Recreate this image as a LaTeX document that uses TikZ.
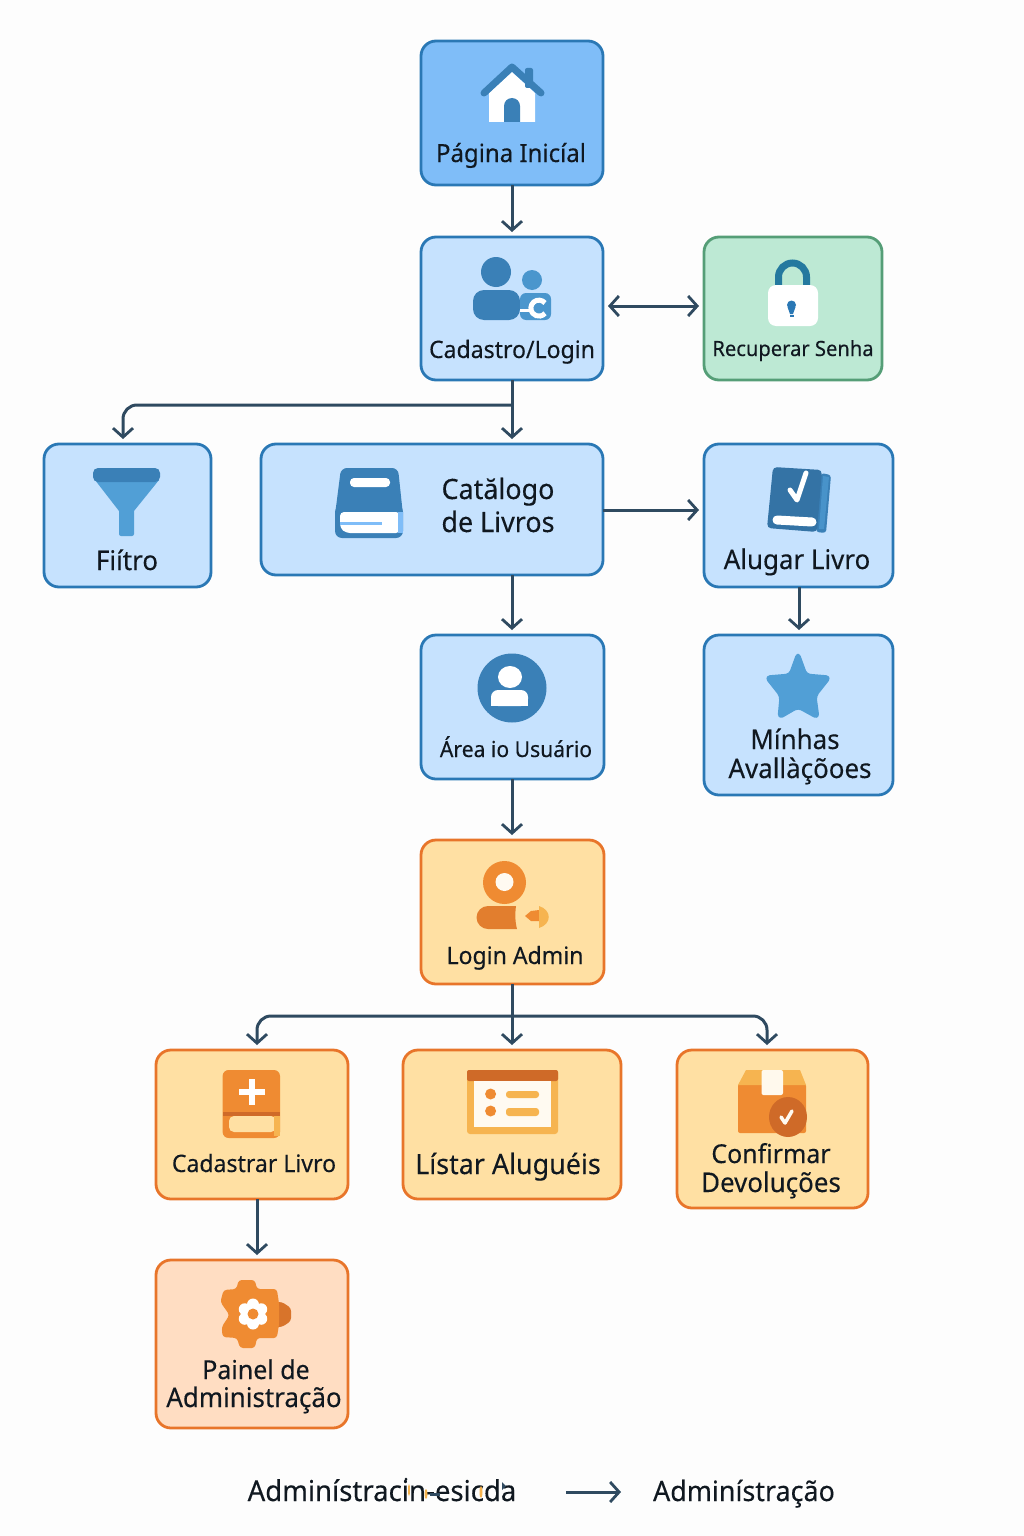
\documentclass[tikz,border=0pt]{standalone}
\usepackage{fontspec}
\setmainfont{Noto Sans}[FakeBold=0.2,FakeStretch=0.96]
\usetikzlibrary{arrows.meta,calc}
\definecolor{bgc}{HTML}{FDFDFD}
\definecolor{bluemid}{HTML}{7FBDF8}
\definecolor{bluelt}{HTML}{C6E2FE}
\definecolor{bluestk}{HTML}{2A78B5}
\definecolor{greenf}{HTML}{BDE9D4}
\definecolor{greens}{HTML}{559E77}
\definecolor{orf}{HTML}{FFE0A3}
\definecolor{ors}{HTML}{E8752A}
\definecolor{peach}{HTML}{FFDDC2}
\definecolor{lnk}{HTML}{2F4A60}
\definecolor{txt}{HTML}{101820}
\definecolor{ib}{HTML}{3A80B7}
\definecolor{ibl}{HTML}{519FD6}
\definecolor{teal}{HTML}{24799F}
\definecolor{io}{HTML}{EF8B32}
\definecolor{iol}{HTML}{F6B450}
\definecolor{iod}{HTML}{CF6A28}
\tikzset{
 x=1pt,y=-1pt,
 box/.style={draw,rounded corners=15pt,line width=2.8pt,inner sep=0pt,outer sep=0pt},
 homebox/.style={box,fill=bluemid,draw=bluestk},
 bluebox/.style={box,fill=bluelt,draw=bluestk},
 greenbox/.style={box,fill=greenf,draw=greens},
 orbox/.style={box,fill=orf,draw=ors},
 peachbox/.style={box,fill=peach,draw=ors},
 arr/.style={draw=lnk,line width=3pt,-{Straight Barb[length=9pt,width=20pt,line width=2.8pt]},shorten >=5pt},
 arrb/.style={draw=lnk,line width=3pt,{Straight Barb[length=9pt,width=20pt,line width=2.8pt]}-{Straight Barb[length=9pt,width=20pt,line width=2.8pt]},shorten >=5pt,shorten <=5pt},
 lab/.style={inner sep=0pt,outer sep=0pt,anchor=base,text=txt},
}
\newcommand{\bx}[6]{\node[#6,minimum width={(#4-#2)*1pt},minimum height={(#5-#3)*1pt}] (#1) at ({(#2+#4)/2},{(#3+#5)/2}) {};}
\newcommand{\fs}[1]{\fontsize{#1}{#1}\selectfont}
\begin{document}
\begin{tikzpicture}
\useasboundingbox (0,0) rectangle (1024,1536);
\fill[bgc] (0,0) rectangle (1024,1536);
% boxes
\bx{home}{421}{41}{603}{185}{homebox}
\bx{cad}{421}{237}{603}{380}{bluebox}
\bx{rec}{704}{237}{882}{380}{greenbox}
\bx{filtro}{44}{444}{211}{587}{bluebox}
\bx{cat}{261}{444}{603}{575}{bluebox}
\bx{alugar}{704}{444}{893}{587}{bluebox}
\bx{area}{421}{635}{604}{779}{bluebox}
\bx{minhas}{704}{635}{893}{795}{bluebox}
\bx{login}{421}{840}{604}{984}{orbox}
\bx{cadl}{156}{1050}{348}{1199}{orbox}
\bx{listar}{403}{1050}{621}{1199}{orbox}
\bx{conf}{677}{1050}{868}{1208}{orbox}
\bx{painel}{156}{1260}{348}{1428}{peachbox}
% connectors
\coordinate (b1) at (512,405);
\coordinate (ftop) at (123,444);
\coordinate (b2) at (512,1016);
\coordinate (cltop) at (257,1050);
\coordinate (cftop) at (767,1050);
\coordinate (aluout) at (799,587);
\coordinate (mintop) at (799,635);
\coordinate (cadlout) at (257,1199);
\coordinate (paintop) at (257,1260);
\coordinate (catout) at (603,510);
\coordinate (alin) at (704,510);
\coordinate (catdown) at (512,575);
\coordinate (areatop) at (512,635);
\coordinate (areaout) at (512,779);
\coordinate (logintop) at (512,840);
\coordinate (loginout) at (512,984);
\coordinate (lisin) at (512,1050);
\coordinate (cadr) at (603,306);
\coordinate (recl) at (704,306);
\coordinate (cattop) at (512,444);
\draw[arr] (home.south) -- (cad.north);
\draw[arrb] (cadr) -- (recl);
\draw[arr] (cad.south) -- (cattop);
\draw[arr,rounded corners=14pt] (b1) -| (ftop);
\draw[arr] (catout) -- (alin);
\draw[arr] (catdown) -- (areatop);
\draw[arr] (aluout) -- (mintop);
\draw[arr] (areaout) -- (logintop);
\draw[arr] (loginout) -- (lisin);
\draw[arr,rounded corners=14pt] (b2) -| (cltop);
\draw[arr,rounded corners=14pt] (b2) -| (cftop);
\draw[arr] (cadlout) -- (paintop);
% legend
\node[lab,font=\fs{28.7}] (lega) at (382,1501) {Adminístracin-esicda};
\node[lab,font=\fs{28}] (legb) at (744,1501) {Adminístração};
\coordinate (la) at (566,1492);
\coordinate (lb) at (626,1492);
\draw[arr] (la) -- (lb);
% small marks inside the legend text
\fill[iol] (409,1490) ellipse[x radius=1,y radius=6] (426,1494) ellipse[x radius=1.5,y radius=5] (481,1492) ellipse[x radius=1.5,y radius=6];
\fill[lnk] (430,1493) rectangle (440,1495.5);
\fill[lnk] (502,1482) -- (506,1486) -- (502,1490) -- cycle;
\fill[txt] (406,1479) circle[radius=1.5];
% labels
\node[lab,font=\fs{25}] (t1) at (511,162) {Página Inicíal};
\node[lab,font=\fs{24}] (t2) at (512,358) {Cadastro/Login};
\node[lab,font=\fs{21}] (t3) at (793,356) {Recuperar Senha};
\node[lab,font=\fs{27}] (t4) at (127,570) {Fiítro};
\node[lab,font=\fs{28}] (t5) at (498,499) {Catălogo};
\node[lab,font=\fs{28}] (t6) at (498,532) {de Livros};
\node[lab,font=\fs{27}] (t7) at (797,569) {Alugar Livro};
\node[lab,font=\fs{22}] (t8) at (516,757) {Área io Usuário};
\node[lab,font=\fs{27}] (t9) at (795,749) {Mínhas};
\node[lab,font=\fs{27}] (t10) at (800,778) {Avallàçõoes};
\node[lab,font=\fs{24}] (t11) at (515,964) {Login Admin};
\node[lab,font=\fs{24}] (t12) at (254,1172) {Cadastrar Livro};
\node[lab,font=\fs{28}] (t13) at (508,1174) {Lístar Aluguéis};
\node[lab,font=\fs{26}] (t14) at (771,1163) {Confirmar};
\node[lab,font=\fs{27}] (t15) at (771,1192) {Devoluções};
\node[lab,font=\fs{26}] (t16) at (256,1379) {Painel de};
\node[lab,font=\fs{27}] (t17) at (254,1407) {Administração};
% ---- icons
% house
\fill[white] (489,122) -- (489,93) -- (512,72) -- (535,93) -- (535,122) -- cycle;
\fill[ib,rounded corners=2pt] (525,68) rectangle (533,88);
\draw[ib,line width=7pt,line cap=round,line join=round] (484,93) -- (512,67) -- (541,93);
\fill[ib] (504,122) -- (504,106) arc[start angle=180,end angle=360,radius=8] -- (520,122) -- cycle;
% users
\fill[ib] (496,272) circle[radius=15];
\fill[ib,rounded corners=11pt] (473,320) -- (473,290) -- (520,290) -- (520,320) -- cycle;
\fill[ibl!70!ib] (532,280) circle[radius=10];
\fill[ibl!70!ib,rounded corners=6pt] (520,293) rectangle (551,320);
\draw[white,line width=5pt] (545,303) arc[start angle=-40,end angle=-320,radius=8];
\draw[white,line width=3pt] (520,310) -- (530,310);
% lock
\draw[teal,line width=7pt] (778.5,288) -- (778.5,277) arc[start angle=180,end angle=360,radius=14] -- (806.5,288);
\fill[white,rounded corners=8pt] (768,285) rectangle (818,326);
\fill[bluestk] (791.5,305) circle[radius=4.5];
\fill[bluestk] (787.5,307) -- (795.5,307) -- (793,314) -- (790,314) -- cycle;
\fill[bluestk] (789.5,315) rectangle (793.5,317);
% filter
\fill[ibl] (95,480) -- (159,480) -- (134,511) -- (134,532) [rounded corners=2pt] -- (134,536) -- (119,536) [sharp corners] -- (119,511) -- cycle;
\fill[ib,rounded corners=5pt] (93,468) rectangle (160,482);
% catalog book
\fill[ib,rounded corners=6pt] (341,468) -- (398,468) -- (403,515) -- (335,515) -- cycle;
\fill[ib,rounded corners=7pt] (335,505) rectangle (403,538);
\fill[white,rounded corners=4pt] (340,512) -- (400,512) -- (400,533) -- (346,533) -- (340,528) -- cycle;
\fill[bluemid] (340,522) rectangle (382,524.5);
\fill[bluemid] (398,512) rectangle (403,533);
\fill[white,rounded corners=4pt] (350,478) rectangle (390,487);
% rent book
\fill[ib,rounded corners=3pt] (821,473) -- (831,475) -- (826,533) -- (816,532) -- cycle;
\fill[ibl!60!ib] (823,476) -- (829,477) -- (824,529) -- (819,529) -- cycle;
\fill[ib!90!black,rounded corners=4pt] (773,467) -- (822,470) -- (817,532) -- (767,528) -- cycle;
\draw[white,line width=5pt,line cap=round,line join=round] (790,490) -- (797,500) -- (806,473);
\draw[white,line width=9pt,line cap=round] (777,520) -- (812,522);
% area person
\fill[ib] (512,688) circle[radius=34.5];
\fill[white] (510,677) ellipse[x radius=12,y radius=11];
\fill[white,rounded corners=7pt] (491,706) -- (491,690) -- (528,690) -- (528,706) -- cycle;
\fill[white] (491,698) rectangle (528,706);
% star
\fill[ibl,draw=ibl,line width=3pt,line join=round,rounded corners=4pt] (798,653) -- (806,675) -- (830,677) -- (815,696) -- (818,718) -- (798,707) -- (779,718) -- (781,696) -- (766,677) -- (790,675) -- cycle;
% admin
\fill[io] (504.5,882.5) circle[radius=21.5];
\fill[white!85!orf] (504.5,882) circle[radius=9];
\fill[iod!40!io] (516,906) -- (488,906) arc[start angle=270,end angle=90,radius=11.5] -- (517,929) .. controls (515,922) and (515,913) .. (516,906) -- cycle;
\fill[io] (525,916) -- (531,911) -- (539,910) -- (539,921) -- (531,921) -- cycle;
\fill[iol] (539,906) .. controls (552,910) and (552,924) .. (539,928) -- cycle;
% cadastrar book
\fill[io,rounded corners=6pt] (222.6,1070) rectangle (280,1138);
\fill[iod] (222.6,1112) rectangle (280,1116);
\fill[orf,rounded corners=5pt] (229,1116) rectangle (276,1132);
\fill[iol] (274,1116) rectangle (280,1136);
\draw[white,line width=6pt] (239,1092) -- (265,1092) (252,1079) -- (252,1105);
% list
\fill[iol,rounded corners=3pt] (467,1070) rectangle (558,1134);
\fill[iod,rounded corners=2pt] (467,1070) rectangle (558,1081);
\fill[white!85!orf] (474,1081) rectangle (551,1127);
\fill[io] (490.6,1094) circle[radius=5.5] (490.6,1111) circle[radius=5.5];
\fill[iol,rounded corners=3pt] (506,1091) rectangle (539,1098) (506,1108) rectangle (539,1116);
% package
\fill[io,rounded corners=2pt] (738,1084) rectangle (806,1133);
\fill[iol] (746,1070) -- (800,1070) -- (806,1085) -- (738,1085) -- cycle;
\fill[white!80!orf,rounded corners=2pt] (761.5,1070) rectangle (783,1095);
\fill[iod] (788,1117) ellipse[x radius=19,y radius=20];
\draw[white!85!orf,line width=3.5pt,line cap=round,line join=round] (781,1117) -- (785,1123) -- (792,1111);
% gear
\fill[iod!70!io,rounded corners=3pt] (270,1302) -- (282,1302) -- (291,1308) -- (291,1321) -- (282,1327) -- (270,1327) -- cycle;
\fill[io,rounded corners=3pt] (238.7,1280) -- (254.8,1280) -- (257,1289) -- (276.8,1289) -- (279,1303) -- (279,1325) -- (276.8,1338) -- (257,1338) -- (254.8,1348) -- (240,1348) -- (237,1338) -- (222.6,1337) -- (221.7,1327) -- (229.5,1315) -- (220.4,1302) -- (223.6,1290) -- (236.4,1289) -- cycle;
\fill[white] (253,1314) circle[radius=10];
\foreach \a in {30,90,...,330}{
 \fill[white] ($(253,1314)+(\a:9.5)$) circle[radius=6];
}
\fill[io] (253,1314) circle[radius=5.5];
\end{tikzpicture}
\end{document}
